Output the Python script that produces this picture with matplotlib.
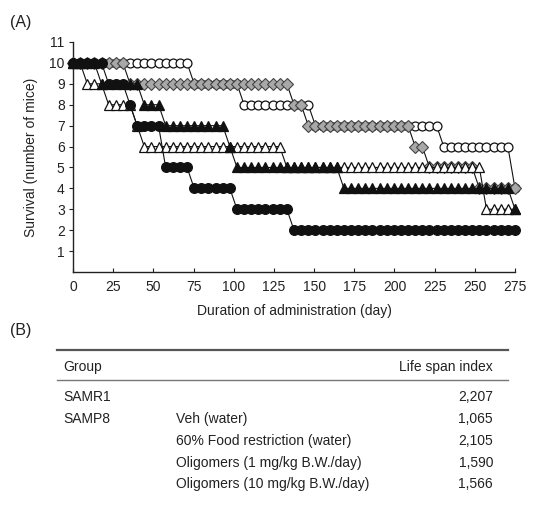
import numpy as np
import matplotlib
matplotlib.use("Agg")
import matplotlib.pyplot as plt

plt.rcParams['font.family'] = ['Liberation Sans', 'DejaVu Sans']

# observation days (markers)
obs_days = np.linspace(0, 275, 63)

# step data: day at which each new count starts, and the count
samr1_days = [0, 73, 104, 148, 228, 273]
samr1_counts = [10, 9, 8, 7, 6, 4]

food_days = [0, 33, 135, 144, 211, 220, 251]
food_counts = [10, 9, 8, 7, 6, 5, 4]

olig1_days = [0, 7, 20, 38, 42, 131, 256]
olig1_counts = [10, 9, 8, 7, 6, 5, 3]

olig10_days = [0, 16, 42, 55, 95, 99, 165, 273]
olig10_counts = [10, 9, 8, 7, 6, 5, 4, 3]

veh_days = [0, 20, 34, 38, 56, 74, 100, 135]
veh_counts = [10, 9, 8, 7, 5, 4, 3, 2]

groups = ["SAMR1", "SAMP8", "", "", ""]
treatments = ["", "Veh (water)", "60% Food restriction (water)",
              "Oligomers (1 mg/kg B.W./day)", "Oligomers (10 mg/kg B.W./day)"]
lifespan = ["2,207", "1,065", "2,105", "1,590", "1,566"]

x_ticks = [0, 25, 50, 75, 100, 125, 150, 175, 200, 225, 250, 275]
y_ticks = list(range(1, 12))


def sample(days, counts):
    idx = np.searchsorted(np.array(days), obs_days, side='right') - 1
    return np.array(counts)[idx]


W, H = 536, 511
fig = plt.figure(figsize=(W / 100, H / 100), dpi=100)
ax = fig.add_axes([73 / W, 1 - 272 / H, (515 - 73) / W, (272 - 42) / H])

lc = '#111111'
common = dict(ls='-', color=lc, lw=0.8, clip_on=False)
ax.plot(obs_days, sample(samr1_days, samr1_counts), marker='o', ms=6.4,
        mfc='white', mec=lc, mew=0.9, zorder=3, **common)
ax.plot(obs_days, sample(food_days, food_counts), marker='D', ms=6.0,
        mfc='#a8a8a8', mec='#444444', mew=0.8, zorder=4, **common)
ax.plot(obs_days, sample(olig1_days, olig1_counts), marker='^', ms=7.0,
        mfc='white', mec=lc, mew=0.9, zorder=5, **common)
ax.plot(obs_days, sample(olig10_days, olig10_counts), marker='^', ms=7.0,
        mfc=lc, mec=lc, mew=0.9, zorder=6, **common)
ax.plot(obs_days, sample(veh_days, veh_counts), marker='o', ms=7.0,
        mfc=lc, mec=lc, mew=0.9, zorder=7, **common)

ax.set_xlim(0, 275)
ax.set_ylim(0, 11)
ax.set_xticks(x_ticks)
ax.set_yticks(y_ticks)
for s in ['top', 'right']:
    ax.spines[s].set_visible(False)
for s in ['left', 'bottom']:
    ax.spines[s].set_linewidth(1.0)
    ax.spines[s].set_color('#222222')
ax.tick_params(axis='x', direction='in', length=3, labelsize=10, colors='#222222', pad=6)
ax.tick_params(axis='y', direction='out', length=3, labelsize=10, colors='#222222', pad=3)
ax.set_xlabel("Duration of administration (day)", fontsize=10, color='#222222', labelpad=7)
ax.set_ylabel("Survival (number of mice)", fontsize=10, color='#222222', labelpad=8)
ax.patch.set_alpha(0)

tc = '#222222'


def fx(px):
    return px / W


def fy(py):
    return 1 - py / H


fig.text(fx(10), fy(22), "(A)", fontsize=11.5, ha='left', va='center', color=tc)
fig.text(fx(10), fy(330), "(B)", fontsize=11.5, ha='left', va='center', color=tc)

# table
fig.add_artist(plt.Line2D([fx(57), fx(508)], [fy(350), fy(350)], color='#555555', lw=1.6))
fig.add_artist(plt.Line2D([fx(57), fx(508)], [fy(380), fy(380)], color='#777777', lw=1.0))
fig.text(fx(63), fy(367), "Group", fontsize=10, ha='left', va='center', color=tc)
fig.text(fx(493), fy(367), "Life span index", fontsize=10, ha='right', va='center', color=tc)
row_y = [397, 419, 441, 463, 484]
for g, t, v, yy in zip(groups, treatments, lifespan, row_y):
    if g:
        fig.text(fx(63), fy(yy), g, fontsize=10, ha='left', va='center', color=tc)
    if t:
        fig.text(fx(176), fy(yy), t, fontsize=10, ha='left', va='center', color=tc)
    fig.text(fx(493), fy(yy), v, fontsize=10, ha='right', va='center', color=tc)

fig.savefig("out.png", dpi=100)
